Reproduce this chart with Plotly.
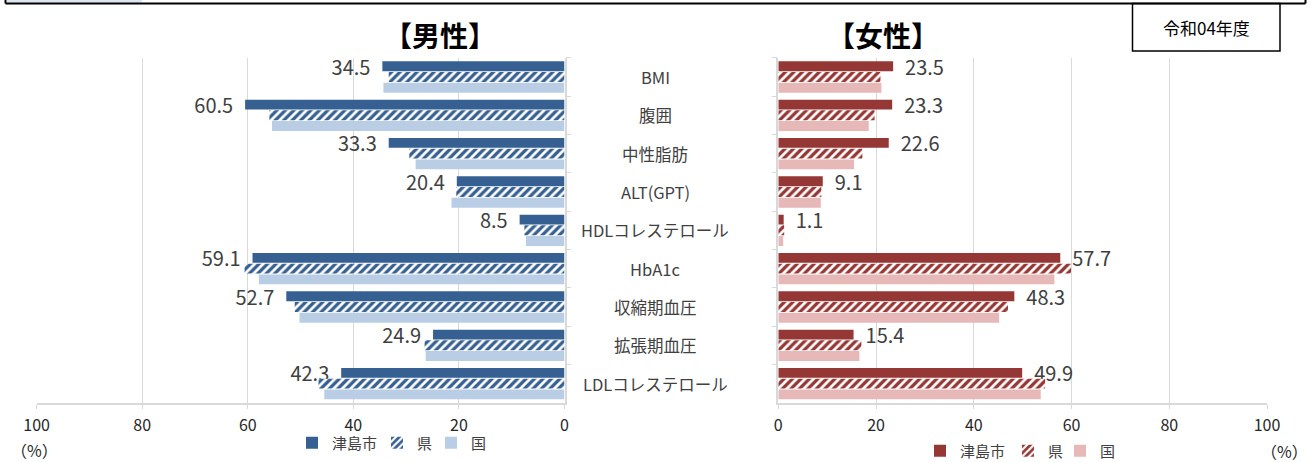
import plotly.graph_objects as go

# ---- data ----
categories = ["BMI", "腹囲", "中性脂肪", "ALT(GPT)", "HDLコレステロール",
              "HbA1c", "収縮期血圧", "拡張期血圧", "LDLコレステロール"]
series_names = ["津島市", "県", "国"]

male_city = [34.5, 60.5, 33.3, 20.4, 8.5, 59.1, 52.7, 24.9, 42.3]
male_pref = [33.3, 55.9, 29.4, 20.5, 7.6, 60.6, 51.1, 26.5, 46.6]
male_nation = [34.3, 55.4, 28.2, 21.4, 7.3, 57.9, 50.2, 26.3, 45.5]

female_city = [23.5, 23.3, 22.6, 9.1, 1.1, 57.7, 48.3, 15.4, 49.9]
female_pref = [20.9, 19.7, 17.2, 8.8, 1.2, 59.9, 47.0, 17.0, 54.6]
female_nation = [21.1, 18.5, 15.5, 8.7, 1.0, 56.5, 45.2, 16.6, 53.7]

x_ticks = [0, 20, 40, 60, 80, 100]
year_label = "令和04年度"

# ---- styling ----
W, H = 1311, 462
FONT = "Noto Sans CJK JP"
GRID = "#D9D9D9"
TXT = "#404040"

male_colors = ["#376092", "#376092", "#B9CDE5"]
female_colors = ["#953735", "#953735", "#E6B9B8"]


def px(x):
    return x / W


def py(y):
    return 1 - y / H


fig = go.Figure()


def add_side(values, colors, xa, ya, legend, label_side, legend_widths):
    for i, (name, vals) in enumerate(zip(series_names, values)):
        marker = dict(color=colors[i], line=dict(width=0))
        if i == 1:
            marker["pattern"] = dict(shape="/", fgcolor="#FFFFFF", bgcolor=colors[i],
                                     size=6, solidity=0.45, fillmode="replace")
        kw = {}
        if i == 0:
            if label_side == "left":
                tmpl = "%{x:.1f}\u00a0\u00a0"
            else:
                tmpl = "\u00a0\u00a0%{x:.1f}"
            kw = dict(texttemplate=tmpl, textposition="outside",
                      textfont=dict(family=FONT, size=20, color=TXT),
                      constraintext="none", cliponaxis=False)
        fig.add_trace(go.Bar(
            x=vals, y=categories, name=name, orientation="h",
            marker=marker, xaxis=xa, yaxis=ya, legend=legend,
            legendwidth=legend_widths[i],
            hoverinfo="skip", **kw))


add_side([male_city, male_pref, male_nation], male_colors, "x", "y",
         "legend", "left", [40, 9, 20])
add_side([female_city, female_pref, female_nation], female_colors, "x2", "y2",
         "legend2", "right", [43, 7, 20])

y_domain = [py(402.8), py(57.8)]

xaxis_common = dict(
    tickvals=x_ticks, showgrid=True, gridcolor=GRID, gridwidth=1,
    zeroline=False, showline=True, linecolor=GRID, linewidth=1.5,
    ticks="outside", ticklen=4, tickcolor=GRID,
    tickfont=dict(family=FONT, size=16, color="#262626"),
    ticklabelstandoff=3, fixedrange=True,
)
yaxis_common = dict(
    type="category", autorange="reversed", showticklabels=False,
    showline=True, linecolor=GRID, linewidth=1.5, ticks="outside",
    ticklen=5, tickcolor=GRID, tickson="boundaries", showgrid=False,
    domain=y_domain, fixedrange=True,
)

legend_font = dict(family=FONT, size=15, color=TXT)

fig.update_layout(
    width=W, height=H,
    margin=dict(l=0, r=0, t=0, b=0, autoexpand=False),
    paper_bgcolor="white", plot_bgcolor="white",
    barmode="group", bargap=0.16, bargroupgap=0.08,
    font=dict(family=FONT, color=TXT),
    xaxis=dict(domain=[px(36.6), px(564.5)], range=[100, 0], anchor="y", **xaxis_common),
    yaxis=dict(anchor="x", side="right", **yaxis_common),
    xaxis2=dict(domain=[px(778.3), px(1267)], range=[0, 100], anchor="y2", **xaxis_common),
    yaxis2=dict(anchor="x2", side="left", **yaxis_common),
    legend=dict(orientation="h", x=px(292), y=py(443), xanchor="left", yanchor="middle",
                font=legend_font, bgcolor="rgba(0,0,0,0)",
                itemwidth=30, traceorder="normal"),
    legend2=dict(orientation="h", x=px(920), y=py(451), xanchor="left", yanchor="middle",
                 font=legend_font, bgcolor="rgba(0,0,0,0)",
                 itemwidth=30, traceorder="normal"),
    showlegend=True,
)


def note(x, y, text, size, color, xref="paper", yref="paper"):
    return dict(x=x, y=y, xref=xref, yref=yref, text=text, showarrow=False,
                xanchor="center", yanchor="middle",
                font=dict(family=FONT, size=size, color=color))


annotations = []
# category labels between the two panels
for cat in categories:
    annotations.append(note(px(655), cat, cat, 16.5, TXT, yref="y"))

# panel titles
annotations.append(note(px(440), py(35), "<b>【男性】</b>", 28, "black"))
annotations.append(note(px(883), py(35), "<b>【女性】</b>", 28, "black"))
# unit labels
annotations.append(note(px(34), py(450), "（%）", 16, "#262626"))
annotations.append(note(px(1284), py(451), "（%）", 16, "#262626"))
# fiscal year box text
annotations.append(note(px(1206), py(28), year_label, 17, "black"))

shapes = [
    # header frame edge along the top
    dict(type="rect", xref="paper", yref="paper", x0=px(7), x1=px(142), y0=py(2.5), y1=py(-1),
         fillcolor="#DCE6F2", line=dict(width=0), layer="below"),
    dict(type="line", xref="paper", yref="paper", x0=px(5.5), x1=px(1305.5), y0=py(3.5), y1=py(3.5),
         line=dict(color="black", width=2)),
    dict(type="line", xref="paper", yref="paper", x0=px(5.5), x1=px(5.5), y0=py(-1), y1=py(3.5),
         line=dict(color="black", width=2)),
    dict(type="line", xref="paper", yref="paper", x0=px(1305.5), x1=px(1305.5), y0=py(-1), y1=py(3.5),
         line=dict(color="black", width=2)),
    # fiscal year box
    dict(type="rect", xref="paper", yref="paper", x0=px(1132.5), x1=px(1280), y0=py(51), y1=py(3.5),
         fillcolor="white", line=dict(color="black", width=1.5), layer="below"),
]

fig.update_layout(annotations=annotations, shapes=shapes)

fig.write_html("out.html")
